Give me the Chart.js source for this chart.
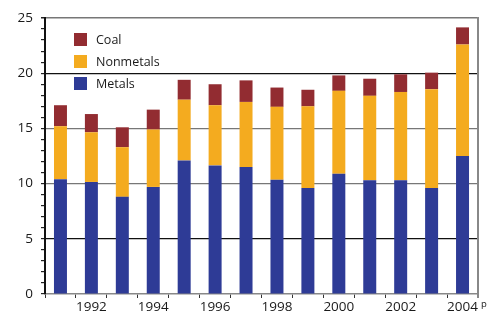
<!DOCTYPE html>
<html>
<head>
<meta charset="utf-8">
<script src="https://cdn.jsdelivr.net/npm/chart.js@4"></script>
<style>
  html, body { margin: 0; padding: 0; background: #fff; }
  #wrap { width: 495px; height: 314px; }
</style>
</head>
<body>
<div id="wrap"><canvas id="myChart" width="495" height="314"></canvas></div>
<script>
// Years on the x axis (labels shown every other year)
const years = ['1991', '1992', '1993', '1994', '1995', '1996', '1997',
               '1998', '1999', '2000', '2001', '2002', '2003', '2004'];

// Values (stacked)
const metals    = [10.4, 10.15, 8.8, 9.7, 12.1, 11.65, 11.5, 10.35, 9.6, 10.9, 10.3, 10.3, 9.6, 12.5];
const nonmetals = [4.8, 4.5, 4.5, 5.2, 5.5, 5.45, 5.9, 6.6, 7.4, 7.5, 7.65, 8.0, 8.95, 10.1];
const coal      = [1.9, 1.65, 1.8, 1.8, 1.8, 1.9, 1.95, 1.75, 1.5, 1.4, 1.55, 1.6, 1.5, 1.55];

const yTicks = [0, 5, 10, 15, 20, 25];

const ctx = document.getElementById('myChart').getContext('2d');
const font = { family: '"Open Sans", sans-serif', size: 13.5 };

// legend drawn inside the plot area, top-left, in reverse order
const innerLegend = {
    id: 'innerLegend',
    afterDraw(chart) {
        const c = chart.ctx;
        const ds = chart.data.datasets.slice().reverse();
        c.save();
        c.font = '12.5px "Open Sans", sans-serif';
        c.textBaseline = 'middle';
        ds.forEach((d, i) => {
            const y = 33 + i * 22;
            c.fillStyle = d.backgroundColor;
            c.fillRect(74, y, 13, 13);
            c.fillStyle = '#1a1a1a';
            c.fillText(d.label, 96, y + 7);
        });
        // right border of the plot
        const a = chart.chartArea;
        c.strokeStyle = '#888';
        c.lineWidth = 2;
        c.beginPath();
        c.moveTo(a.right, a.top - 1);
        c.lineTo(a.right, a.bottom + 4);
        c.stroke();
        // "p" (preliminary) after the last label
        c.fillStyle = '#1a1a1a';
        c.font = '9.5px "Open Sans", sans-serif';
        c.textBaseline = 'alphabetic';
        c.fillText('p', a.right + 3, a.bottom + 13);
        c.restore();
    }
};

const data = {
    labels: years,
    datasets: [
        { label: 'Metals', data: metals, backgroundColor: '#2e3b96' },
        { label: 'Nonmetals', data: nonmetals, backgroundColor: '#f4ab1f' },
        { label: 'Coal', data: coal, backgroundColor: '#922c31' }
    ]
};

const config = {
    type: 'bar',
    data: data,
    options: {
        responsive: false,
        animation: false,
        layout: { padding: { top: 18, right: 17, left: 0, bottom: 0 } },
        datasets: { bar: { categoryPercentage: 1, barPercentage: 0.42 } },
        plugins: { legend: { display: false }, tooltip: { enabled: false } },
        scales: {
            x: {
                stacked: true,
                afterFit: s => { s.height = 20; },
                grid: { offset: true, drawOnChartArea: false, tickLength: 4, tickColor: '#333' },
                border: { color: '#888', width: 1.5 },
                ticks: {
                    font: font, color: '#1a1a1a', padding: 1,
                    maxRotation: 0, autoSkip: false,
                    callback: (v, i) => (i % 2 === 1 ? years[i] : '')
                }
            },
            y: {
                stacked: true,
                min: 0,
                max: 25,
                afterFit: s => { s.width = 45; },
                grid: {
                    tickLength: 4,
                    tickColor: '#222',
                    color: c => {
                        const v = c.tick.value;
                        if (!yTicks.includes(v) || v === 0) return 'rgba(0,0,0,0)';
                        return (v === 5 || v === 20) ? '#111' : '#777';
                    },
                    lineWidth: c => (c.tick.value === 25 ? 1.5 : 1.2)
                },
                border: { color: '#111', width: 2 },
                ticks: {
                    font: font, color: '#1a1a1a', padding: 8,
                    stepSize: 1, autoSkip: false,
                    callback: v => (yTicks.includes(v) ? v : '')
                }
            }
        }
    },
    plugins: [innerLegend]
};

const myChart = new Chart(ctx, config);
</script>
</body>
</html>
